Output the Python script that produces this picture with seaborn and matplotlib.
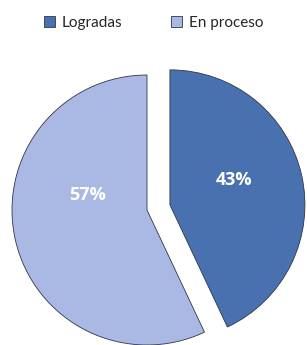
import matplotlib
matplotlib.use("Agg")
import matplotlib.pyplot as plt
import seaborn as sns

categories = ["Logradas", "En proceso"]
values = [43, 57]
colors = ["#4A71AF", "#A9B9E3"]

sns.set_theme(style="white")
plt.rcParams['font.family'] = ['Lato', 'DejaVu Sans']

W, H = 307, 345
R = 135
fig = plt.figure(figsize=(W / 100, H / 100), dpi=100)
ax = fig.add_axes([0, 0, 1, 1])

wedges, texts, autotexts = ax.pie(
    values, colors=colors, startangle=90, counterclock=False,
    explode=[0.174 * R, 0], center=(147, H - 210), radius=R,
    autopct='%1.0f%%', pctdistance=0.5, frame=True,
    wedgeprops=dict(edgecolor='#2e3648', linewidth=0.6),
    textprops=dict(color='white', fontsize=13, fontweight='bold',
                   family=['Open Sans', 'DejaVu Sans']))
ax.set_xlim(0, W)
ax.set_ylim(0, H)
ax.set_aspect('equal')
ax.axis('off')

# nudge labels slightly like the source layout
for t, (dx, dy) in zip(autotexts, [(-0.013, 0.074), (0.044, 0.22)]):
    x, y = t.get_position()
    t.set_position((x + dx * R, y + dy * R))

leg = fig.legend(wedges, categories, loc='center', bbox_to_anchor=(0.5, 1 - 23 / H),
                 ncol=2, frameon=False, fontsize=11, handlelength=0.75, handleheight=0.75,
                 handletextpad=0.4, columnspacing=3.2)
for h in leg.legend_handles:
    h.set_edgecolor('#2e3648')
    h.set_linewidth(0.6)

fig.savefig("out.png", dpi=100, facecolor='white')
